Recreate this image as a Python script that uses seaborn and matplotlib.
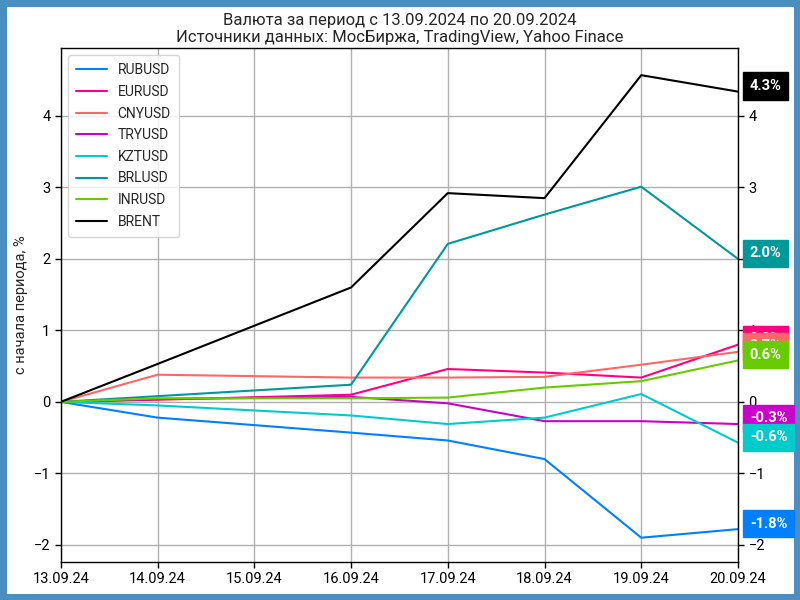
import numpy as np
import pandas as pd
import matplotlib
matplotlib.use("Agg")
import matplotlib.pyplot as plt
import matplotlib.dates as mdates
import seaborn as sns

dates = ["2024-09-13", "2024-09-14", "2024-09-16", "2024-09-17", "2024-09-18", "2024-09-19", "2024-09-20"]
tick_dates = ["2024-09-13", "2024-09-14", "2024-09-15", "2024-09-16", "2024-09-17", "2024-09-18", "2024-09-19", "2024-09-20"]

names = ["RUBUSD", "EURUSD", "CNYUSD", "TRYUSD", "KZTUSD", "BRLUSD", "INRUSD", "BRENT"]
rubusd = [0.0, -0.22, -0.43, -0.54, -0.80, -1.90, -1.78]
eurusd = [0.0, 0.03, 0.10, 0.46, 0.41, 0.34, 0.80]
cnyusd = [0.0, 0.38, 0.34, 0.34, 0.35, 0.52, 0.70]
tryusd = [0.0, 0.04, 0.07, -0.02, -0.27, -0.27, -0.31]
kztusd = [0.0, -0.05, -0.19, -0.31, -0.22, 0.11, -0.57]
brlusd = [0.0, 0.08, 0.24, 2.21, 2.62, 3.01, 2.00]
inrusd = [0.0, 0.05, 0.05, 0.06, 0.20, 0.29, 0.58]
brent = [0.0, 0.53, 1.60, 2.92, 2.85, 4.57, 4.34]
series = [rubusd, eurusd, cnyusd, tryusd, kztusd, brlusd, inrusd, brent]
colors = ["#0080ff", "#ff0080", "#ff6666", "#cc00cc", "#00cccc", "#009999", "#66cc00", "#000000"]

rows = []
for n, vals in zip(names, series):
    for d, v in zip(dates, vals):
        rows.append({"date": pd.Timestamp(d), "value": v, "name": n})
df = pd.DataFrame(rows)

sns.set_style("white")
plt.rcParams["font.family"] = ["Roboto", "DejaVu Sans"]

fig = plt.figure(figsize=(8, 6), dpi=100)
fig.patch.set_edgecolor("#4a8fbf")
fig.patch.set_linewidth(8)
ax = fig.add_axes([0.076, 0.0633, 0.8465, 0.8567])

sns.lineplot(data=df, x="date", y="value", hue="name", hue_order=names,
             palette=colors, linewidth=1.5, ax=ax, legend=True)

ax.set_xlim(pd.Timestamp(tick_dates[0]), pd.Timestamp(tick_dates[-1]))
ax.set_ylim(-2.24, 4.95)
ax.set_xticks([pd.Timestamp(d) for d in tick_dates])
ax.xaxis.set_major_formatter(mdates.DateFormatter("%d.%m.%y"))
ax.set_yticks([-2, -1, 0, 1, 2, 3, 4])
ax.grid(True, color="#b0b0b0", linewidth=1)
for s in ax.spines.values():
    s.set_color("black")
    s.set_linewidth(1)
ax.tick_params(axis="both", which="both", direction="out", length=4, width=1,
               colors="black", labelsize=10.5, left=True, bottom=True,
               right=True, labelright=True)
ax.set_xlabel("")
ax.set_ylabel("с начала периода, %", fontsize=10.5)

leg = ax.legend(loc="upper left", fontsize=10, frameon=True, handlelength=2.2,
                borderpad=0.6, labelspacing=0.55)
leg.set_title(None)

ax.set_title("Валюта за период с 13.09.2024 по 20.09.2024\nИсточники данных: МосБиржа, TradingView, Yahoo Finace",
             fontsize=12, pad=4)

for n, vals, c in zip(names, series, colors):
    v = vals[-1]
    ax.annotate(f"{v:.1f}%", xy=(1.0, v), xycoords=("axes fraction", "data"),
                xytext=(8.5, 4), textcoords="offset points", va="center", ha="left",
                color="white", fontsize=10.5, fontweight="bold",
                bbox=dict(boxstyle="square,pad=0.45", fc=c, ec=c))

fig.savefig("out.png", dpi=100, edgecolor=fig.get_edgecolor())
